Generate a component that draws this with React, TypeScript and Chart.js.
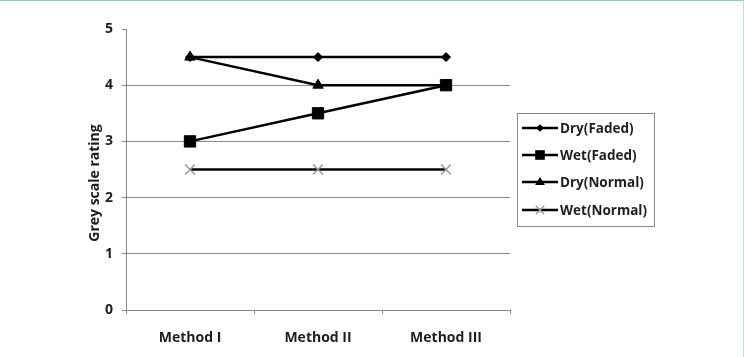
import React, { useEffect, useRef } from "react";
import { Chart, registerables } from "chart.js";

Chart.register(...registerables);

const categories = ["Method I", "Method II", "Method III"];
const dryFaded = [4.5, 4.5, 4.5];
const wetFaded = [3, 3.5, 4];
const dryNormal = [4.5, 4, 4];
const wetNormal = [2.5, 2.5, 2.5];
const seriesNames = ["Dry(Faded)", "Wet(Faded)", "Dry(Normal)", "Wet(Normal)"];
const yTicks = [0, 1, 2, 3, 4, 5];
const yTitle = "Grey scale rating";

const FONT = "'Open Sans', 'Liberation Sans', sans-serif";
const TEXT = "#1e1e1e";
const GRID = "#8a8a8a";

function drawMarker(ctx: CanvasRenderingContext2D, style: string, x: number, y: number, r: number, fill: string, stroke: string, bw: number) {
  ctx.save();
  ctx.fillStyle = fill;
  ctx.strokeStyle = stroke;
  ctx.lineWidth = bw;
  ctx.beginPath();
  if (style === "rectRot") {
    ctx.moveTo(x, y - r);
    ctx.lineTo(x + r, y);
    ctx.lineTo(x, y + r);
    ctx.lineTo(x - r, y);
    ctx.closePath();
    ctx.fill();
  } else if (style === "rect") {
    const s = r * Math.SQRT1_2;
    ctx.rect(x - s, y - s, 2 * s, 2 * s);
    ctx.fill();
  } else if (style === "triangle") {
    ctx.moveTo(x, y - r);
    ctx.lineTo(x + r * 0.95, y + r * 0.6);
    ctx.lineTo(x - r * 0.95, y + r * 0.6);
    ctx.closePath();
    ctx.fill();
  } else if (style === "crossRot") {
    const s = r * Math.SQRT1_2;
    ctx.moveTo(x - s, y - s);
    ctx.lineTo(x + s, y + s);
    ctx.moveTo(x - s, y + s);
    ctx.lineTo(x + s, y - s);
    ctx.stroke();
  }
  ctx.restore();
}

const styles = [
  { pointStyle: "rectRot", radius: 4.5, fill: "#000", stroke: "#000", bw: 1 },
  { pointStyle: "rect", radius: 8, fill: "#000", stroke: "#000", bw: 1 },
  { pointStyle: "triangle", radius: 6, fill: "#000", stroke: "#000", bw: 1 },
  { pointStyle: "crossRot", radius: 7, fill: "#999", stroke: "#9a9a9a", bw: 1.5 },
];

const customPlugin = {
  id: "custom",
  afterDraw(chart: any) {
    const ctx: CanvasRenderingContext2D = chart.ctx;
    // Y title
    ctx.save();
    ctx.translate(95, 183);
    ctx.rotate(-Math.PI / 2);
    ctx.font = `bold 14px ${FONT}`;
    ctx.fillStyle = TEXT;
    ctx.textAlign = "center";
    ctx.textBaseline = "middle";
    ctx.fillText(yTitle, 0, 0);
    ctx.restore();

    // Legend
    const bx = 517, by = 113, bw = 137, bh = 113;
    ctx.save();
    ctx.strokeStyle = "#8a8a8a";
    ctx.lineWidth = 1;
    ctx.strokeRect(bx + 0.5, by + 0.5, bw, bh);
    const rows = [128, 155, 182, 210];
    seriesNames.forEach((name, i) => {
      const y = rows[i];
      ctx.strokeStyle = "#000";
      ctx.lineWidth = 2.5;
      ctx.beginPath();
      ctx.moveTo(522, y);
      ctx.lineTo(558, y);
      ctx.stroke();
      const s = styles[i];
      drawMarker(ctx, s.pointStyle, 540, y, s.radius * 0.85, s.fill, s.stroke, s.bw);
      ctx.font = `bold 13.5px ${FONT}`;
      ctx.fillStyle = TEXT;
      ctx.textAlign = "left";
      ctx.textBaseline = "middle";
      ctx.fillText(name, 560, y + 1);
    });
    ctx.restore();
  },
};

export default function App() {
  const ref = useRef<HTMLCanvasElement>(null);
  useEffect(() => {
    const data = [dryFaded, wetFaded, dryNormal, wetNormal];
    const chart = new Chart(ref.current!, {
      type: "line",
      data: {
        labels: categories,
        datasets: data.map((d, i) => ({
          label: seriesNames[i],
          data: d,
          borderColor: "#000",
          borderWidth: 2.5,
          pointStyle: styles[i].pointStyle as any,
          pointRadius: styles[i].radius,
          pointBackgroundColor: styles[i].fill,
          pointBorderColor: styles[i].stroke,
          pointBorderWidth: styles[i].bw,
          tension: 0,
          fill: false,
        })),
      },
      options: {
        animation: false,
        responsive: false,
        devicePixelRatio: 1,
        layout: { padding: { left: 0, top: 29, right: 234, bottom: 0 } },
        plugins: { legend: { display: false }, tooltip: { enabled: false } },
        scales: {
          x: {
            offset: true,
            grid: {
              offset: true,
              drawOnChartArea: false,
              drawTicks: true,
              tickLength: 4,
              color: GRID,
            },
            border: { display: true, color: GRID, width: 1 },
            ticks: {
              color: TEXT,
              font: { family: FONT, size: 14, weight: "bold" },
              padding: 16,
              maxRotation: 0,
            },
            afterFit: (s: any) => {
              s.height = 47;
            },
          },
          y: {
            min: 0,
            max: 5,
            afterBuildTicks: (s: any) => {
              s.ticks = yTicks.map((v) => ({ value: v }));
            },
            grid: {
              color: (c: any) => (c.tick && c.tick.value === 5 ? "rgba(0,0,0,0)" : GRID),
              tickColor: GRID,
              tickLength: 4,
              lineWidth: 1,
            },
            border: { display: true, color: GRID, width: 1 },
            ticks: {
              color: TEXT,
              font: { family: FONT, size: 14, weight: "bold" },
              padding: 9,
            },
            afterFit: (s: any) => {
              s.width = 126;
            },
          },
        },
      },
      plugins: [customPlugin],
    });
    return () => chart.destroy();
  }, []);
  return (
    <div style={{ position: "absolute", left: 0, top: 0, width: 744, height: 357, background: "#fff" }}>
      <canvas ref={ref} width={744} height={357} style={{ display: "block", width: 744, height: 357 }} />
      <div
        style={{
          position: "absolute",
          left: 0,
          top: 0,
          width: 744,
          height: 357,
          boxSizing: "border-box",
          borderTop: "1px solid #7fd6c8",
          borderRight: "1px solid #b4e6de",
          pointerEvents: "none",
        }}
      />
    </div>
  );
}
